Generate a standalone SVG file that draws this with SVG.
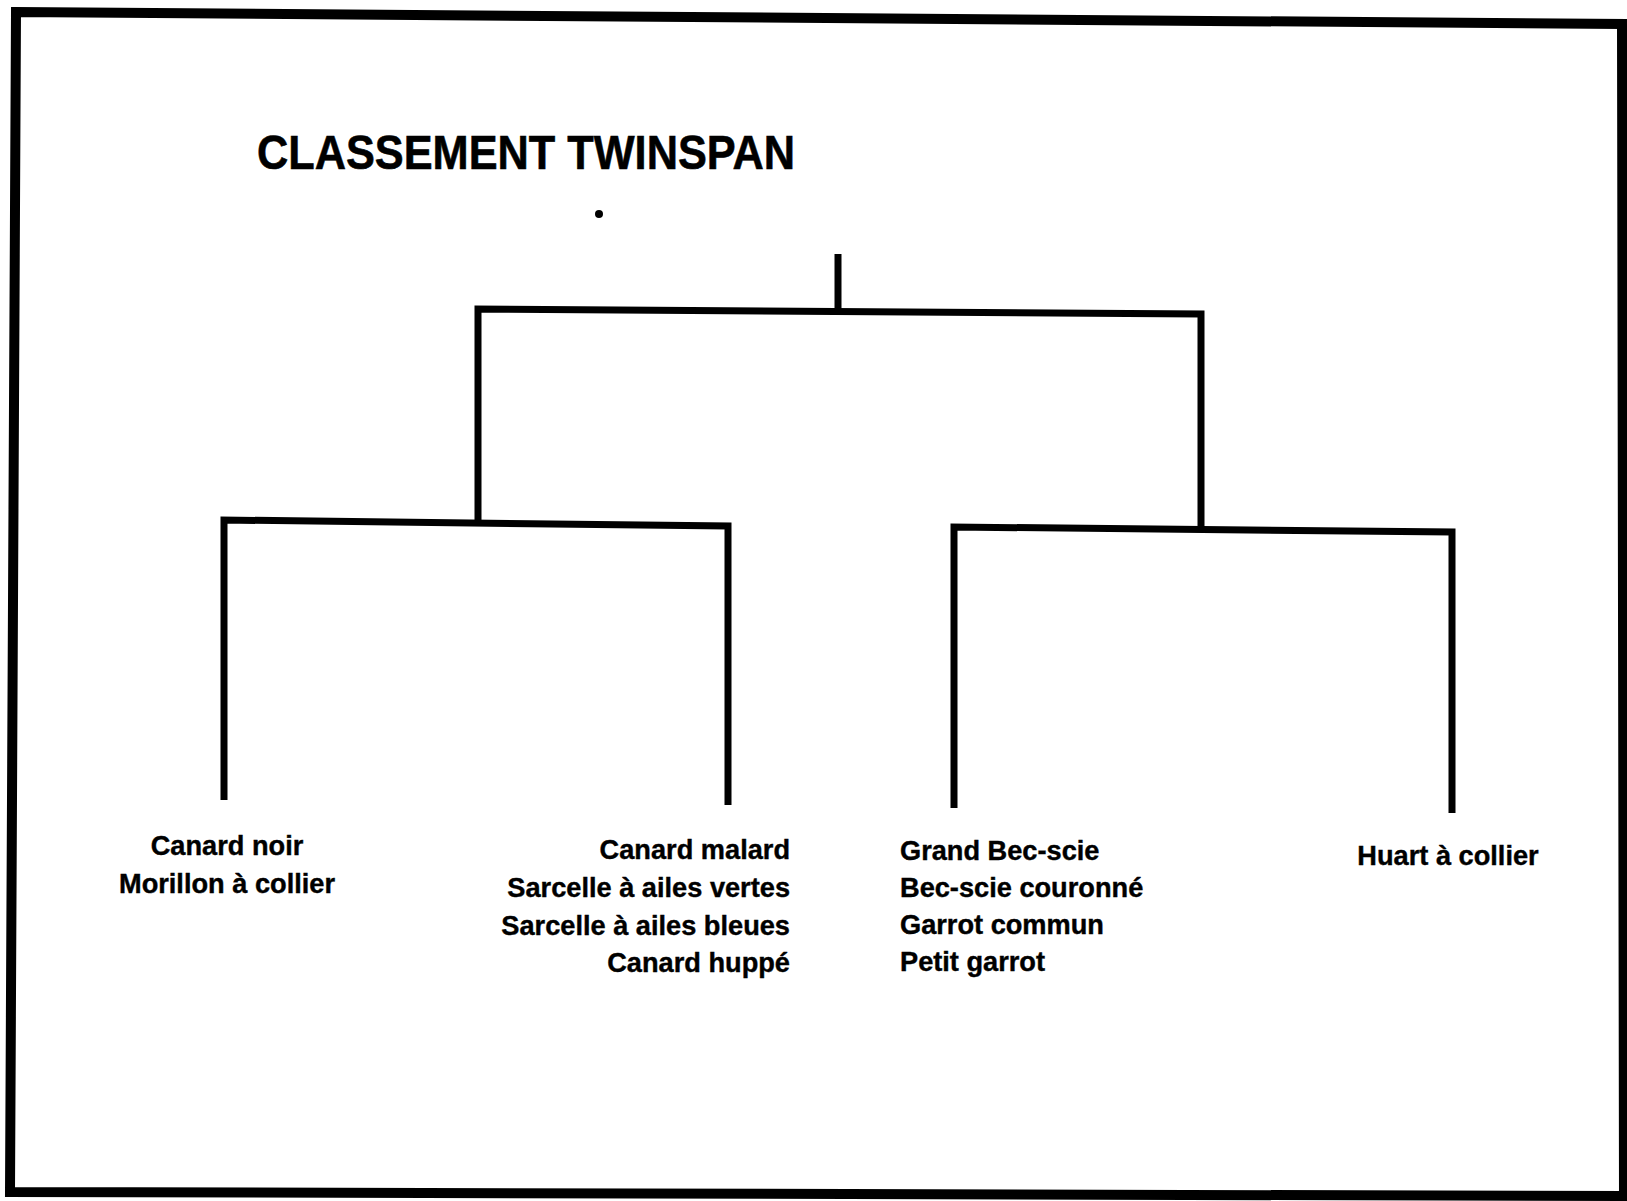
<svg xmlns="http://www.w3.org/2000/svg" width="1627" height="1201" viewBox="0 0 1627 1201">
  <style>
    .frame { fill: none; stroke: #000; stroke-width: 10; stroke-linejoin: miter; }
    .edge { fill: none; stroke: #000; stroke-width: 7; stroke-linejoin: miter; stroke-linecap: butt; }
    .title { font-family: "Liberation Sans", Arial, sans-serif; font-weight: bold; font-size: 49px; fill: #000; stroke: #000; stroke-width: 0.6; }
    .lbl { font-family: "Liberation Sans", Arial, sans-serif; font-weight: bold; font-size: 27.2px; fill: #000; stroke: #000; stroke-width: 0.4; }
  </style>
  <rect x="0" y="0" width="1627" height="1201" fill="#fff"/>
  <path class="frame" d="M16,12 L1622,24 L1624,1196 L10,1192 Z"/>

  <g id="title">
    <text class="title" x="257" y="169" textLength="538" lengthAdjust="spacingAndGlyphs">CLASSEMENT TWINSPAN</text>
    <circle cx="599" cy="214" r="4" fill="#000"/>
  </g>

  <g id="connectors">
    <path class="edge" d="M838,254 V312"/>
    <path class="edge" d="M478,521 V309 L1201,314 V529"/>
    <path class="edge" d="M224,800 V520 L728,526 V805"/>
    <path class="edge" d="M954,808 V527 L1452,532 V813"/>
  </g>

  <g id="group1">
    <text class="lbl" x="227" y="855" text-anchor="middle">Canard noir</text>
    <text class="lbl" x="227" y="893" text-anchor="middle">Morillon à collier</text>
  </g>

  <g id="group2">
    <text class="lbl" x="790" y="859" text-anchor="end">Canard malard</text>
    <text class="lbl" x="790" y="897" text-anchor="end">Sarcelle à ailes vertes</text>
    <text class="lbl" x="790" y="935" text-anchor="end">Sarcelle à ailes bleues</text>
    <text class="lbl" x="790" y="972" text-anchor="end">Canard huppé</text>
  </g>

  <g id="group3">
    <text class="lbl" x="900" y="860">Grand Bec-scie</text>
    <text class="lbl" x="900" y="897">Bec-scie couronné</text>
    <text class="lbl" x="900" y="934">Garrot commun</text>
    <text class="lbl" x="900" y="971">Petit garrot</text>
  </g>

  <g id="group4">
    <text class="lbl" x="1448" y="865" text-anchor="middle">Huart à collier</text>
  </g>
</svg>
